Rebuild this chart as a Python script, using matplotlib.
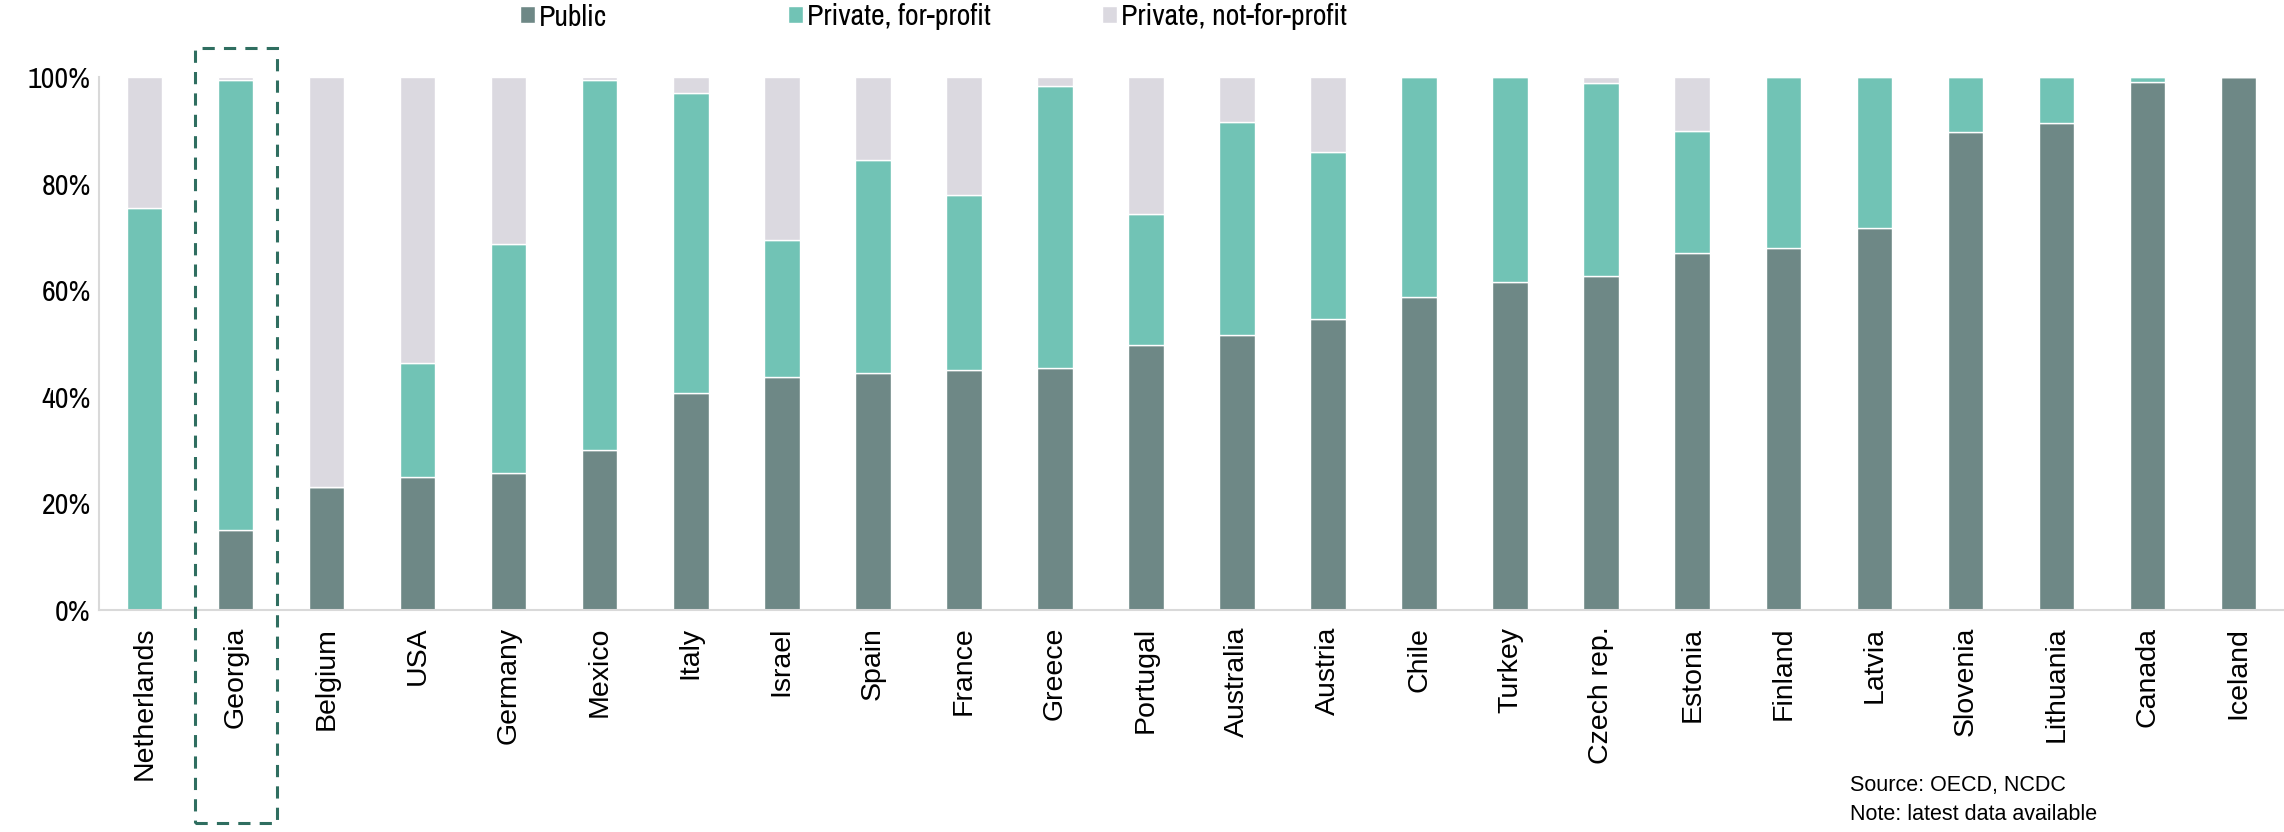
import matplotlib
matplotlib.use("Agg")
import matplotlib.pyplot as plt
from matplotlib.patches import Rectangle
from matplotlib.font_manager import fontManager
import numpy as np

countries = ["Netherlands", "Georgia", "Belgium", "USA", "Germany", "Mexico", "Italy",
             "Israel", "Spain", "France", "Greece", "Portugal", "Australia", "Austria",
             "Chile", "Turkey", "Czech rep.", "Estonia", "Finland", "Latvia", "Slovenia",
             "Lithuania", "Canada", "Iceland"]
public = [0.0, 15.0, 23.0, 25.0, 25.7, 30.0, 40.7, 43.7, 44.5, 45.1, 45.4, 49.7, 51.6,
          54.6, 58.7, 61.5, 62.6, 66.9, 68.0, 71.6, 89.6, 91.3, 99.0, 100.0]
for_profit = [75.5, 84.5, 0.0, 21.4, 42.9, 69.5, 56.3, 25.7, 39.9, 32.8, 53.0, 24.6, 39.9,
              31.4, 41.3, 38.5, 36.3, 23.0, 32.0, 28.4, 10.4, 8.7, 1.0, 0.0]
not_for_profit = [100 - p - f for p, f in zip(public, for_profit)]

series_names = ["Public", "Private, for-profit", "Private, not-for-profit"]
colors = ["#6E8886", "#71C3B5", "#DBD9E0"]
highlight = "Georgia"

names = {f.name for f in fontManager.ttflist}
narrow = "Liberation Sans"
for cand in ["Arial Narrow", "Liberation Sans Narrow", "Archivo Narrow", "PT Sans Narrow",
             "Roboto Condensed", "Arimo Narrow", "Pragati Narrow", "Fira Sans Condensed"]:
    if cand in names:
        narrow = cand
        break
regular = "Arimo" if "Arimo" in names else "Liberation Sans"

W, H = 2284, 832
fig = plt.figure(figsize=(W / 100, H / 100), dpi=100)
ax = fig.add_axes([99 / W, 222 / H, 1 - 99 / W, 533 / H])

x = np.arange(len(countries))
bw = 0.39
pub = np.array(public) / 100
fp = np.array(for_profit) / 100
nfp = np.array(not_for_profit) / 100
b1 = ax.bar(x, pub, bw, color=colors[0], edgecolor="white", linewidth=1.0)
b2 = ax.bar(x, fp, bw, bottom=pub, color=colors[1], edgecolor="white", linewidth=1.0)
b3 = ax.bar(x, nfp, bw, bottom=pub + fp, color=colors[2], edgecolor="white", linewidth=1.0)

ax.set_xlim(-0.5, len(countries) - 0.5)
ax.set_ylim(0, 1)
ax.set_yticks(np.arange(0, 1.01, 0.2))
ax.set_yticklabels([f"{int(round(v * 100))}%" for v in np.arange(0, 1.01, 0.2)],
                   fontfamily=narrow, fontsize=21.5)
ax.set_xticks(x)
ax.set_xticklabels(countries, rotation=90, fontfamily=regular, fontsize=20.5)
ax.tick_params(axis="both", length=0)
ax.tick_params(axis="x", pad=12)
ax.tick_params(axis="y", pad=6)
for s in ["top", "right"]:
    ax.spines[s].set_visible(False)
for s in ["left", "bottom"]:
    ax.spines[s].set_color("#D9D9D9")
    ax.spines[s].set_linewidth(1.5)

# highlight box around Georgia
gi = countries.index(highlight)
rect = Rectangle((gi - 0.45, -0.40), 0.9, 1.455, fill=False, linestyle=(0, (4, 3)),
                 edgecolor="#2F6E60", linewidth=2.2, clip_on=False, zorder=5)
ax.add_patch(rect)

# legend
legx = [520 / W, 788 / W, 1102 / W]
for h, name, lx in zip([b1, b2, b3], series_names, legx):
    fig.legend([h[-1]], [name], loc="center left",
               bbox_to_anchor=(lx, 1 - 17 / H), frameon=False,
               prop={"family": narrow, "size": 21.5}, handlelength=0.5,
               handleheight=0.5, handletextpad=0.12, borderpad=0, borderaxespad=0)

fig.text(1850 / W, 1 - 786 / H, "Source: OECD, NCDC", fontfamily=regular, fontsize=15.5,
         va="center", ha="left")
fig.text(1850 / W, 1 - 814 / H, "Note: latest data available", fontfamily=regular,
         fontsize=15.5, va="center", ha="left")

fig.savefig("out.png", dpi=100)
